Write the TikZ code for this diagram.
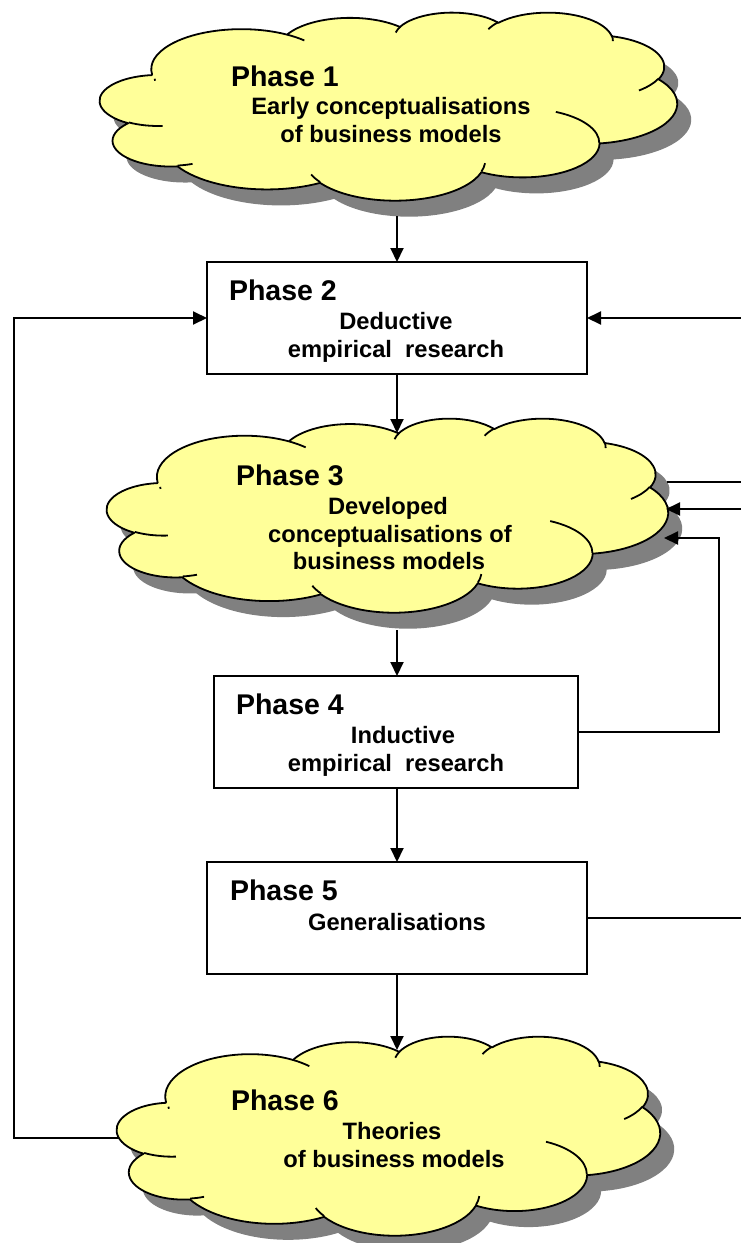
\documentclass[tikz,border=0pt]{standalone}
\usepackage{fontspec}
\setmainfont{Liberation Sans}
\usetikzlibrary{arrows.meta}
\definecolor{cloudyellow}{HTML}{FFFF99}
\definecolor{shadowgray}{HTML}{808080}

% Elliptic arc given by its radii, a visual start angle and a visual sweep
% (the angle convention of the office cloud outline).
\tikzset{
  varc/.style n args={4}{
    x radius=#1, y radius=#2,
    start angle={atan2(#1*sin(#3),#2*cos(#3))},
    delta angle={mod(atan2(#1*sin(#3+#4),#2*cos(#3+#4))-atan2(#1*sin(#3),#2*cos(#3))+720,360)}
  }
}

% Cloud outline in a 432 x 432 frame (y pointing down)
\newcommand\cloudbody[1]{%
  \path[#1] (39.00,143.70)
    arc[varc={67.53}{91.90}{-190.4875}{123.7805}]
    arc[varc={53.33}{72.67}{-144.1024}{89.9452}]
    arc[varc={43.65}{59.45}{-145.8079}{99.7230}]
    arc[varc={48.57}{65.95}{-130.9861}{117.2417}]
    arc[varc={53.33}{72.73}{-78.7089}{109.0269}]
    arc[varc={67.75}{92.20}{-46.2673}{130.2690}]
    arc[varc={57.85}{78.67}{0.6250}{114.0333}]
    arc[varc={67.52}{92.15}{22.4516}{115.1726}]
    arc[varc={77.20}{105.43}{66.2426}{75.7110}]
    arc[varc={43.60}{59.18}{-274.9421}{146.7356}]
    arc[varc={43.45}{59.45}{-246.8285}{152.5189}]
    -- cycle;}

% Short inner creases between the puffs
\newcommand\cloudcreases{%
  \draw (46.93,261.77) arc[varc={43.45}{59.45}{86.742}{26.4295}];
  \draw (69.28,348.99) arc[varc={43.60}{59.18}{73.6105}{11.4475}];
  \draw (164.78,390.90) arc[varc={67.52}{92.15}{137.6242}{14.0811}];
  \draw (288.27,347.51) arc[varc={67.52}{92.15}{6.4533}{15.9984}];
  \draw (341.29,229.54) arc[varc={57.85}{78.67}{-70.2924}{70.9174}];
  \draw (417.98,153.54) arc[varc={53.33}{72.73}{30.3180}{27.7515}];
  \draw (383.24,54.26) arc[varc={48.57}{65.95}{-13.7443}{14.8589}];
  \draw (290.78,39.52) arc[varc={48.57}{65.95}{-149.1815}{18.1954}];
  \draw (221.41,47.20) arc[varc={43.65}{59.45}{-163.4943}{17.6864}];
  \draw (140.00,51.92) arc[varc={67.53}{91.90}{-66.7070}{12.3194}];
  \draw (41.27,157.89) arc[varc={67.53}{91.90}{-190.4875}{3.7763}];}

% #1 frame node, #2 width, #3 height
\newcommand\drawcloud[3]{%
  \begin{scope}[shift={(#1.north west)}, xshift=14pt, yshift=-16pt,
                xscale={#2/432}, yscale={#3/432}]
    \cloudbody{fill=shadowgray}
  \end{scope}
  \begin{scope}[shift={(#1.north west)}, xscale={#2/432}, yscale={#3/432},
                line join=round, line width=1.8pt]
    \cloudbody{fill=cloudyellow, draw=black}
    \cloudcreases
  \end{scope}}

\begin{document}
\begin{tikzpicture}[x=1pt, y=-1pt, line width=2pt,
  every node/.style={inner sep=0pt, outer sep=0pt},
  cloudframe/.style 2 args={rectangle, minimum width=#1pt, minimum height=#2pt},
  stagebox/.style 2 args={rectangle, draw=black, fill=white,
                          minimum width=#1pt, minimum height=#2pt},
  phase/.style={font=\fontsize{28.5}{34}\selectfont\bfseries, anchor=base west},
  desc/.style={font=\fontsize{23.7}{28}\selectfont\bfseries, anchor=base},
  link/.style={line width=2pt},
  flow/.style={link, -{Triangle[length=14pt,width=13pt]}}]

\useasboundingbox (0,0) rectangle (741,1243);

% frames of the three clouds
\node[cloudframe={577}{188}] (c1) at (388.5,106) {};
\node[cloudframe={561}{194}] (c3) at (387.5,515) {};
\node[cloudframe={543}{199}] (c6) at (388.5,1135.5) {};

\drawcloud{c1}{577}{188}
\drawcloud{c3}{561}{194}
\drawcloud{c6}{543}{199}

% rectangular phases
\node[stagebox={380}{112}] (b2) at (397,318) {};
\node[stagebox={364}{112}] (b4) at (396,732) {};
\node[stagebox={380}{112}] (b5) at (397,918) {};

% texts
\node[phase] (t1) at (231,86) {Phase 1};
\node[desc] (t1a) at (391,114) {Early conceptualisations};
\node[desc] (t1b) at (391,142) {of business models};

\node[phase] (t2) at (229,300) {Phase 2};
\node[desc] (t2a) at (396,329) {Deductive};
\node[desc] (t2b) at (396,357) {empirical~~research};

\node[phase] (t3) at (236,485) {Phase 3};
\node[desc] (t3a) at (388,514) {Developed};
\node[desc] (t3b) at (390,542) {conceptualisations of};
\node[desc] (t3c) at (389,569) {business models};

\node[phase] (t4) at (236,714) {Phase 4};
\node[desc] (t4a) at (403,743) {Inductive};
\node[desc] (t4b) at (396,771) {empirical~~research};

\node[phase] (t5) at (230,900) {Phase 5};
\node[desc] (t5a) at (397,930) {Generalisations};

\node[phase] (t6) at (231,1110) {Phase 6};
\node[desc] (t6a) at (392,1139) {Theories};
\node[desc] (t6b) at (394,1167) {of business models};

% connection points
\coordinate (edge) at (741,0);
\coordinate (rv) at (719,0);
\coordinate (c1out) at (397,216);
\coordinate (c3top) at (397,433);
\coordinate (c3out) at (397,630);
\coordinate (c6top) at (397,1050);
\coordinate (c6w) at (119,1138);
\coordinate (lft) at (14,1138);
\coordinate (c3a) at (667,482);
\coordinate (c3b) at (666,509);
\coordinate (c3c) at (664,538);

% main sequence
\draw[flow] (c1out) -- (c1out |- b2.north);
\draw[flow] (b2.south) -- (b2.south |- c3top);
\draw[flow] (c3out) -- (c3out |- b4.north);
\draw[flow] (c3out |- b4.south) -- (c3out |- b5.north);
\draw[flow] (b5.south) -- (b5.south |- c6top);

% feedback loops
\draw[flow] (c6w) -- (lft) -- (lft |- b2.west) -- (b2.west);
\draw[flow] (b2.east -| edge) -- (b2.east);
\draw[link] (c3a) -- (c3a -| edge);
\draw[flow] (c3b -| edge) -- (c3b);
\draw[flow] (b4.east) -- (b4.east -| rv) -- (rv |- c3c) -- (c3c);
\draw[link] (b5.east) -- (b5.east -| edge);
\end{tikzpicture}
\end{document}
